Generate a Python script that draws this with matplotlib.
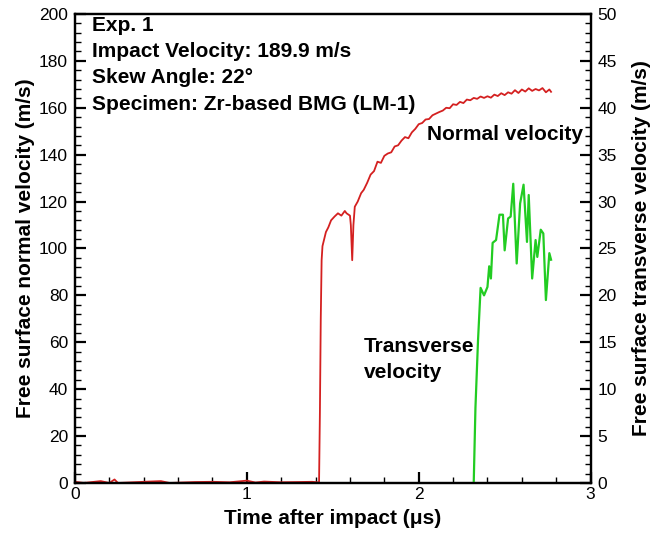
import matplotlib
matplotlib.use("Agg")
import matplotlib.pyplot as plt
from matplotlib.ticker import MultipleLocator

plt.rcParams['font.family'] = ['Liberation Sans', 'DejaVu Sans']

# Normal velocity (left axis, m/s)
t_normal = [0.00, 0.05, 0.15, 0.20, 0.23, 0.25, 0.40, 0.50, 0.55, 0.70, 0.80, 0.90,
            1.00, 1.05, 1.10, 1.20, 1.30, 1.38, 1.41, 1.42, 1.425, 1.43, 1.435, 1.44,
            1.45, 1.46, 1.474, 1.49, 1.51, 1.53, 1.55, 1.57, 1.58, 1.60, 1.605, 1.613,
            1.62, 1.628, 1.645, 1.665, 1.68,
            1.70, 1.72, 1.74, 1.76, 1.78, 1.80, 1.82, 1.84, 1.86, 1.88, 1.90, 1.92,
            1.94, 1.96, 1.98, 2.00, 2.02, 2.04, 2.06, 2.08, 2.10, 2.12, 2.14, 2.16,
            2.18, 2.20, 2.22, 2.24, 2.26, 2.28, 2.30, 2.32, 2.34, 2.36, 2.38, 2.40,
            2.42, 2.44, 2.46, 2.48, 2.50, 2.52, 2.54, 2.56, 2.58, 2.60, 2.62, 2.64,
            2.66, 2.68, 2.70, 2.72, 2.74, 2.76, 2.77]
v_normal = [0.5, 0.0, 0.8, 0.0, 1.5, 0.0, 0.5, 0.8, 0.0, 0.4, 0.5, 0.3,
            1.0, 0.2, 0.6, 0.3, 0.4, 0.5, 0.3, 0.0, 30.0, 70.0, 95.0, 101.0,
            104.0, 107.0, 109.0, 112.0, 113.6, 115.0, 114.0, 116.0, 115.0, 114.0, 110.0, 95.0,
            110.0, 117.8, 120.0, 123.6, 125.0,
            128.0, 131.5, 133.0, 137.0, 136.5, 139.5, 140.5, 141.0, 143.5, 144.0, 146.0, 147.5,
            147.0, 149.5, 151.0, 153.0, 153.5, 155.0, 155.2, 156.8, 157.5, 158.2, 158.8, 160.0,
            159.8, 161.5, 161.2, 162.5, 162.0, 163.5, 163.2, 164.2, 163.8, 164.8, 164.2, 164.9,
            164.3, 165.6, 165.0, 166.2, 165.4, 166.6, 166.0, 167.5, 166.3, 167.8, 166.9, 168.3,
            167.2, 168.0, 167.4, 168.4, 166.6, 167.8, 166.8]

# Transverse velocity (right axis, m/s)
t_trans = [2.32, 2.33, 2.345, 2.36, 2.38, 2.40, 2.41, 2.42, 2.43, 2.45, 2.47, 2.49,
           2.50, 2.52, 2.535, 2.55, 2.57, 2.59, 2.61, 2.63, 2.64, 2.66, 2.68, 2.69,
           2.71, 2.725, 2.74, 2.76, 2.77]
v_trans = [0.0, 8.0, 15.2, 20.8, 20.0, 20.9, 23.1, 21.8, 25.6, 25.9, 28.6, 28.6,
           24.8, 28.2, 28.4, 31.9, 23.4, 29.8, 31.8, 25.7, 30.7, 21.8, 25.9, 24.1,
           27.0, 26.6, 19.5, 24.5, 23.8]

info_lines = ["Exp. 1", "Impact Velocity: 189.9 m/s", "Skew Angle: 22\u00b0",
              "Specimen: Zr-based BMG (LM-1)"]

fig = plt.figure(figsize=(6.51, 5.37), dpi=100)
ax = fig.add_axes([0.1152, 0.1006, 0.792, 0.8734])
ax2 = ax.twinx()

ax.plot(t_normal, v_normal, color='#d42020', lw=1.3)
ax2.plot(t_trans, v_trans, color='#22cc22', lw=1.6)

ax.set_xlim(0, 3)
ax.set_ylim(0, 200)
ax2.set_ylim(0, 50)

ax.xaxis.set_major_locator(MultipleLocator(1))
ax.xaxis.set_minor_locator(MultipleLocator(0.2))
ax.yaxis.set_major_locator(MultipleLocator(20))
ax.yaxis.set_minor_locator(MultipleLocator(4))
ax2.yaxis.set_major_locator(MultipleLocator(5))
ax2.yaxis.set_minor_locator(MultipleLocator(1))

for a in (ax, ax2):
    for s in a.spines.values():
        s.set_linewidth(1.6)
    a.tick_params(which='major', direction='in', length=8, width=1.6, labelsize=12.5, pad=5)
    a.tick_params(which='minor', direction='in', length=4, width=1.0)
ax.tick_params(axis='x', which='both', top=False)
ax.tick_params(axis='x', pad=3)

ax.set_xlabel("Time after impact (\u03bcs)", fontsize=15, fontweight='bold', labelpad=5)
ax.set_ylabel("Free surface normal velocity (m/s)", fontsize=15, fontweight='bold', labelpad=3)
ax2.set_ylabel("Free surface transverse velocity (m/s)", fontsize=15, fontweight='bold', labelpad=11)

ys = [195.2, 183.9, 172.8, 161.6]
for txt, yv in zip(info_lines, ys):
    ax.text(0.097, yv, txt, fontsize=15, fontweight='bold', va='center', ha='left')

ax.text(2.05, 148.5, "Normal velocity", fontsize=15, fontweight='bold', va='center', ha='left')
ax.text(1.68, 58, "Transverse", fontsize=15, fontweight='bold', va='center', ha='left')
ax.text(1.68, 47, "velocity", fontsize=15, fontweight='bold', va='center', ha='left')

fig.savefig("out.png", dpi=100)
